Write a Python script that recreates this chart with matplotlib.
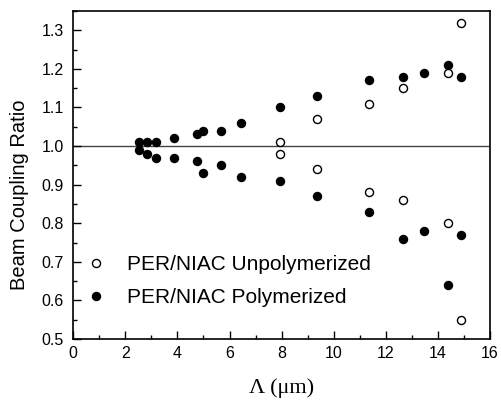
import matplotlib
matplotlib.use("Agg")
import matplotlib.pyplot as plt
from matplotlib.ticker import MultipleLocator

# Polymerized (filled circles)
poly_x = [2.52, 2.84, 3.16, 3.85, 4.75, 4.97, 5.66, 6.45, 7.95, 9.36, 11.36, 12.67, 13.47, 14.38, 14.87]
poly_upper = [1.01, 1.01, 1.01, 1.02, 1.03, 1.04, 1.04, 1.06, 1.10, 1.13, 1.17, 1.18, 1.19, 1.21, 1.18]
poly_lower = [0.99, 0.98, 0.97, 0.97, 0.96, 0.93, 0.95, 0.92, 0.91, 0.87, 0.83, 0.76, 0.78, 0.64, 0.77]

# Unpolymerized (open circles)
unpoly_x = [7.95, 9.36, 11.36, 12.67, 14.38, 14.87]
unpoly_upper = [1.01, 1.07, 1.11, 1.15, 1.19, 1.32]
unpoly_lower = [0.98, 0.94, 0.88, 0.86, 0.80, 0.55]

labels = ["PER/NIAC Unpolymerized", "PER/NIAC Polymerized"]
xticks = [0, 2, 4, 6, 8, 10, 12, 14, 16]
yticks = [0.5, 0.6, 0.7, 0.8, 0.9, 1.0, 1.1, 1.2, 1.3]

plt.rcParams['font.family'] = ['Liberation Sans', 'DejaVu Sans']

fig = plt.figure(figsize=(5.02, 4.0), dpi=100)
ax = fig.add_axes([0.146, 0.1525, 0.830, 0.820])

ax.axhline(1.0, color='#444444', lw=1.0, zorder=1)

ax.plot(poly_x, poly_upper, 'o', color='black', ms=6.8, mew=0, zorder=3)
h_poly, = ax.plot(poly_x, poly_lower, 'o', color='black', ms=6.8, mew=0, zorder=3)
ax.plot(unpoly_x, unpoly_upper, 'o', mfc='white', mec='black', ms=5.8, mew=1.0, zorder=4)
h_unpoly, = ax.plot(unpoly_x, unpoly_lower, 'o', mfc='white', mec='black', ms=5.8, mew=1.0, zorder=4)

ax.set_xlim(0, 16)
ax.set_ylim(0.5, 1.35)
ax.set_xticks(xticks)
ax.set_yticks(yticks)
ax.set_xticklabels([str(t) for t in xticks])
ax.set_yticklabels([f"{t:.1f}" for t in yticks])
ax.xaxis.set_minor_locator(MultipleLocator(1))
ax.yaxis.set_minor_locator(MultipleLocator(0.05))
ax.tick_params(which='major', direction='in', length=6, width=1.0, labelsize=11.5, top=False, right=False)
ax.tick_params(axis='y', which='major', pad=7)
ax.tick_params(axis='x', which='major', pad=5)
ax.tick_params(which='minor', direction='in', length=3, width=1.0, top=False, right=False)
for s in ax.spines.values():
    s.set_linewidth(1.2)

ax.set_ylabel("Beam Coupling Ratio", fontsize=14.5)
ax.yaxis.set_label_coords(-0.1075, 0.44)
ax.set_xlabel("Λ (μm)", fontsize=16, family=['Liberation Serif', 'DejaVu Serif'])
ax.xaxis.set_label_coords(0.5, -0.119)

leg = ax.legend([h_unpoly, h_poly], labels, loc='upper left', bbox_to_anchor=(0.0, 0.3),
                frameon=False, fontsize=15, handlelength=0.8, handletextpad=1.1,
                labelspacing=0.68, borderaxespad=0.3)

fig.savefig("out.png", dpi=100)
